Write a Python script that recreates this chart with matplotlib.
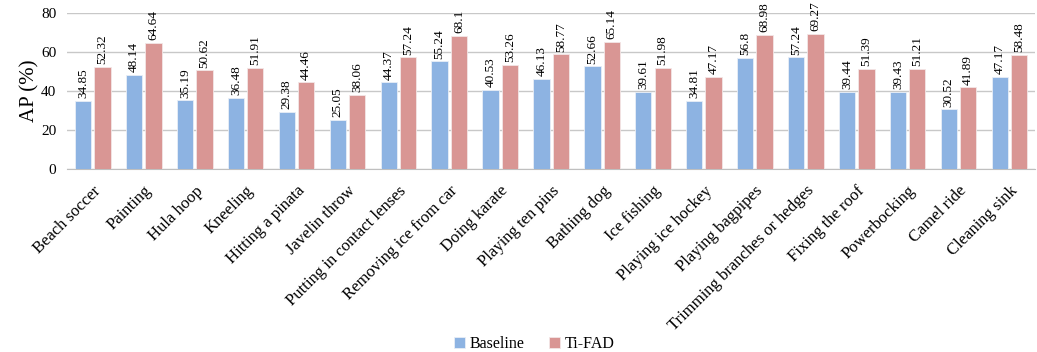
import numpy as np
import matplotlib.pyplot as plt

categories = ["Beach soccer", "Painting", "Hula hoop", "Kneeling", "Hitting a pinata",
              "Javelin throw", "Putting in contact lenses", "Removing ice from car",
              "Doing karate", "Playing ten pins", "Bathing dog", "Ice fishing",
              "Playing ice hockey", "Playing bagpipes", "Trimming branches or hedges",
              "Fixing the roof", "Powerbocking", "Camel ride", "Cleaning sink"]
baseline = [34.85, 48.14, 35.19, 36.48, 29.38, 25.05, 44.37, 55.24, 40.53, 46.13,
            52.66, 39.61, 34.81, 56.8, 57.24, 39.44, 39.43, 30.52, 47.17]
tifad = [52.32, 64.64, 50.62, 51.91, 44.46, 38.06, 57.24, 68.1, 53.26, 58.77,
         65.14, 51.98, 47.17, 68.98, 69.27, 51.39, 51.21, 41.89, 58.48]
baseline_labels = ["34.85", "48.14", "35.19", "36.48", "29.38", "25.05", "44.37", "55.24",
                   "40.53", "46.13", "52.66", "39.61", "34.81", "56.8", "57.24", "39.44",
                   "39.43", "30.52", "47.17"]
tifad_labels = ["52.32", "64.64", "50.62", "51.91", "44.46", "38.06", "57.24", "68.1",
                "53.26", "58.77", "65.14", "51.98", "47.17", "68.98", "69.27", "51.39",
                "51.21", "41.89", "58.48"]

plt.rcParams['font.family'] = ['Liberation Serif', 'DejaVu Serif']

fig = plt.figure(figsize=(10.37, 3.52), dpi=100)
ax = fig.add_axes([0.065, 0.52, 0.933, 0.443])

x = np.arange(len(categories))
w = 0.32
off = 0.19
b1 = ax.bar(x - off, baseline, w, color='#8DB3E2', edgecolor='#E8EEF6', linewidth=0.6, label='Baseline', zorder=3)
b2 = ax.bar(x + off, tifad, w, color='#D99694', edgecolor='#F3E6E6', linewidth=0.6, label='Ti-FAD', zorder=3)

# rotated value labels above each bar
for bars, labels in ((b1, baseline_labels), (b2, tifad_labels)):
    for rect, lab in zip(bars, labels):
        ax.annotate(lab, (rect.get_x() + rect.get_width() / 2, rect.get_height()),
                    xytext=(0, 2), textcoords='offset points', rotation=90,
                    ha='center', va='bottom', fontsize=9.5)

ax.set_xlim(-0.5, len(categories) - 0.5)
ax.set_ylim(0, 80)
ax.set_yticks([0, 20, 40, 60, 80])
ax.yaxis.grid(True, color='#C8C8C8', linewidth=1, zorder=0)
ax.set_xticks(x)
ax.set_xticklabels(categories, rotation=45, ha='right', rotation_mode='anchor', fontsize=12)
ax.tick_params(axis='y', length=0, labelsize=11, pad=8)
ax.tick_params(axis='x', length=0, labelsize=12, pad=10)
for s in ['top', 'right', 'left']:
    ax.spines[s].set_visible(False)
ax.spines['bottom'].set_color('#BFBFBF')
ax.set_ylabel('AP (%)', fontsize=15)
ax.yaxis.set_label_coords(-0.029, 0.5)

fig.legend(handles=[b1, b2], loc='lower center', ncol=2, frameon=False,
           bbox_to_anchor=(0.515, -0.04), fontsize=11.5, handlelength=0.7,
           handleheight=0.7, handletextpad=0.3, columnspacing=1.5)

fig.savefig('out.png', dpi=100)
